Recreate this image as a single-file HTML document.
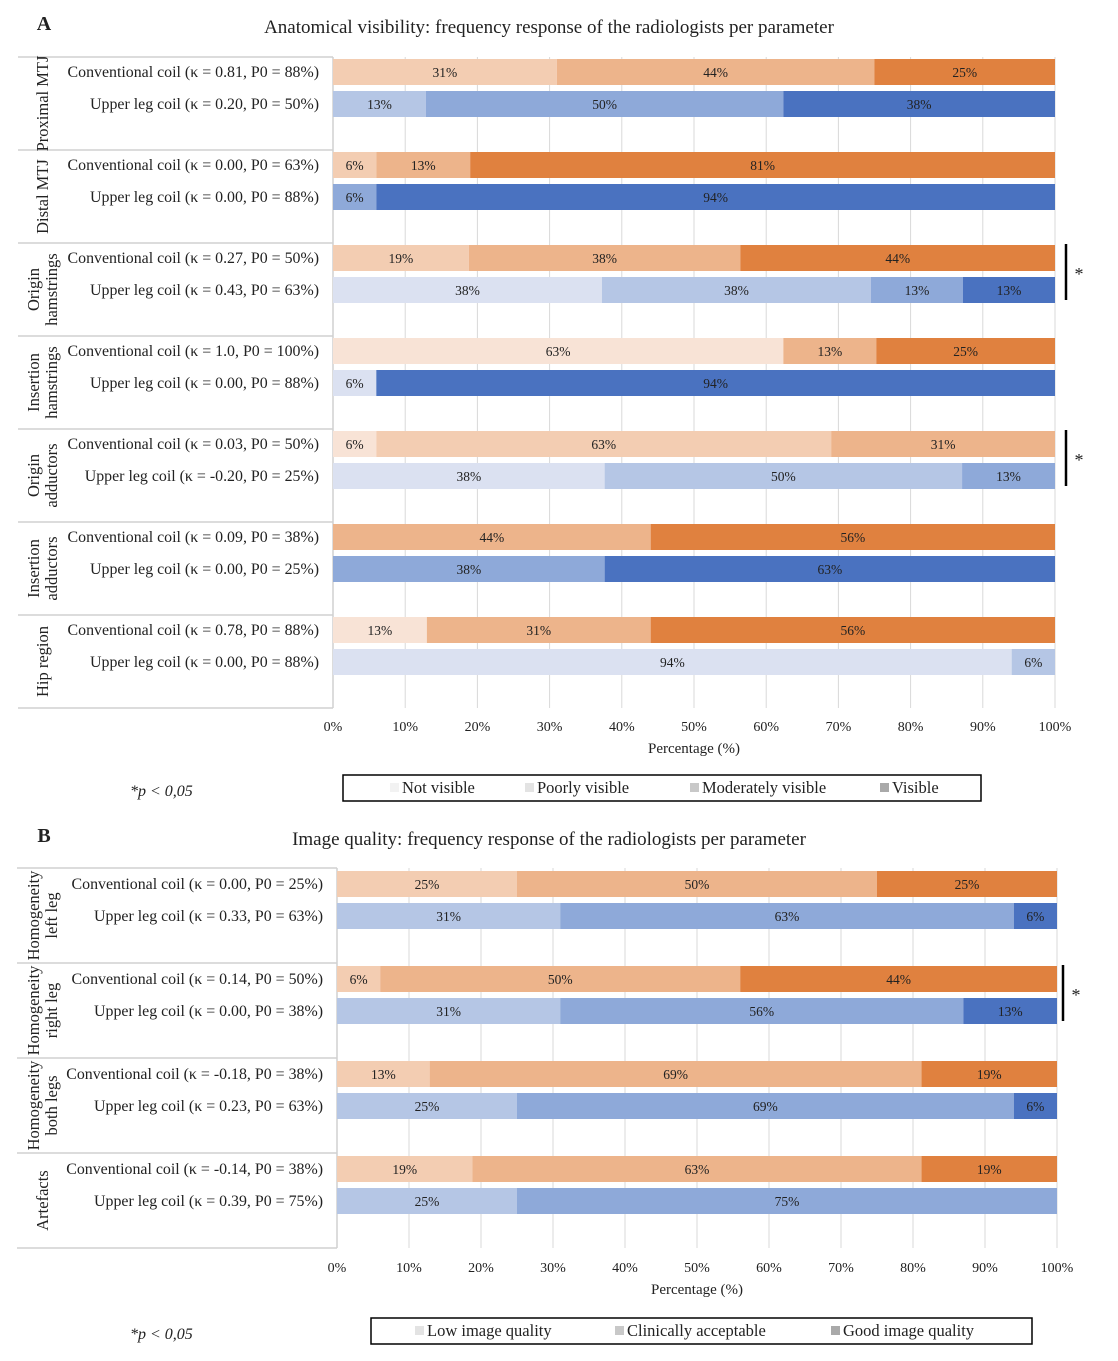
<!DOCTYPE html>
<html><head><meta charset="utf-8"><style>
body{margin:0;background:#fff;}
svg text{font-family:"Liberation Serif",serif;fill:#222;}
</style></head><body>
<svg id="s" width="1118" height="1356" xmlns="http://www.w3.org/2000/svg"></svg>
<script>
// ---- Chart A data ----
const catsA=["Proximal MTJ","Distal MTJ","Origin|hamstrings","Insertion|hamstrings","Origin|adductors","Insertion|adductors","Hip region"];
const convLabelsA=["Conventional coil (κ = 0.81, P0 = 88%)","Conventional coil (κ = 0.00, P0 = 63%)","Conventional coil (κ = 0.27, P0 = 50%)","Conventional coil (κ = 1.0, P0 = 100%)","Conventional coil (κ = 0.03, P0 = 50%)","Conventional coil (κ = 0.09, P0 = 38%)","Conventional coil (κ = 0.78, P0 = 88%)"];
const upperLabelsA=["Upper leg coil (κ = 0.20, P0 = 50%)","Upper leg coil (κ = 0.00, P0 = 88%)","Upper leg coil  (κ = 0.43, P0 = 63%)","Upper leg coil (κ = 0.00, P0 = 88%)","Upper leg coil (κ = -0.20, P0 = 25%)","Upper leg coil (κ = 0.00, P0 = 25%)","Upper leg coil (κ = 0.00, P0 = 88%)"];
const convA=[[0,31,44,25],[0,6,13,81],[0,19,38,44],[63,0,13,25],[6,63,31,0],[0,0,44,56],[13,0,31,56]];
const upperA=[[0,13,50,38],[0,0,6,94],[38,38,13,13],[6,0,0,94],[38,50,13,0],[0,0,38,63],[94,6,0,0]];
const legendA=["Not visible","Poorly visible","Moderately visible","Visible"];
// ---- Chart B data ----
const catsB=["Homogeneity|left leg","Homogeneity|right leg","Homogeneity|both legs","Artefacts"];
const convLabelsB=["Conventional coil  (κ = 0.00, P0 = 25%)","Conventional coil (κ = 0.14, P0 = 50%)","Conventional coil (κ = -0.18, P0 = 38%)","Conventional coil (κ = -0.14, P0 = 38%)"];
const upperLabelsB=["Upper leg coil (κ = 0.33, P0 = 63%)","Upper leg coil (κ = 0.00, P0 = 38%)","Upper leg coil (κ = 0.23, P0 = 63%)","Upper leg coil (κ = 0.39, P0 = 75%)"];
const convB=[[25,50,25],[6,50,44],[13,69,19],[19,63,19]];
const upperB=[[31,63,6],[31,56,13],[25,69,6],[25,75,0]];
const legendB=["Low image quality","Clinically acceptable","Good image quality"];
const ticks=[0,10,20,30,40,50,60,70,80,90,100];

const orA=["#f8e3d6","#f3cdb2","#edb48b","#e0813f"], blA=["#dbe1f1","#b5c6e5","#8ea9d9","#4a72c0"];
const orB=["#f3cdb2","#edb48b","#e0813f"], blB=["#b5c6e5","#8ea9d9","#4a72c0"];
const S=document.getElementById('s');const NS="http://www.w3.org/2000/svg";
function el(t,a,txt){const e=document.createElementNS(NS,t);for(const k in a)e.setAttribute(k,a[k]);if(txt!==undefined)e.textContent=txt;S.appendChild(e);return e;}

function chart(o){
  const x=v=>o.x0+(o.x1-o.x0)*v/100;
  const T=el('text',{x:o.titleX,y:o.titleY,'font-size':19,'text-anchor':'middle'},o.title);
  
  const L=el('text',{x:44,y:o.titleY-3,'font-size':20,'font-weight':'bold','text-anchor':'middle'},o.letter);
  
  const n=o.cats.length, top=o.top, gh=o.gh, bottom=top+n*gh;
  ticks.forEach(t=>{const g=el('line',{x1:x(t),x2:x(t),y1:top,y2:bottom,stroke:'#d9d9d9','stroke-width':1});
    
    const tl=el('text',{x:x(t),y:o.tickY,'font-size':14,'text-anchor':'middle'},t+'%');
    });
  const at=el('text',{x:(o.x0+o.x1)/2,y:o.tickY+22,'font-size':15,'text-anchor':'middle'},'Percentage (%)');
  
  for(let i=0;i<=n;i++){const l=el('line',{x1:o.lx,x2:o.x0,y1:top+i*gh,y2:top+i*gh,stroke:'#d0d0d0','stroke-width':1.5});
    }
  const vl=el('line',{x1:o.x0,x2:o.x0,y1:top,y2:bottom,stroke:'#d0d0d0','stroke-width':1.5});
  
  o.cats.forEach((c,i)=>{
    const cy=top+i*gh+gh/2, parts=c.split('|');
    parts.forEach((p,j)=>{const off=(j-(parts.length-1)/2)*18;
      const t=el('text',{x:0,y:0,'font-size':16.5,'text-anchor':'middle','transform':`translate(${42+off+6},${cy}) rotate(-90)`},p);
      });
    [[o.conv[i],o.cl[i],o.or,o.c1],[o.upper[i],o.ul[i],o.bl,o.c2]].forEach(([vals,lab,cols,yc])=>{
      const y=top+i*gh+yc;
      const tl=el('text',{x:o.x0-14,y:y+5,'font-size':15.9,'text-anchor':'end'},lab);
      
      const sum=vals.reduce((a,b)=>a+b,0);let cum=0;
      vals.forEach((v,k)=>{if(!v)return;const a=x(cum*100/sum),b=x((cum+v)*100/sum);cum+=v;
        const r=el('rect',{x:a,y:y-13,width:b-a,height:26,fill:cols[k]});
        
        const vt=el('text',{x:(a+b)/2,y:y+5,'font-size':13.5,'text-anchor':'middle'},v+'%');
        });
    });
  });
  o.sig.forEach(s=>{const y=top+s*gh;
    const l=el('line',{x1:o.sigX,x2:o.sigX,y1:y+o.c1-14,y2:y+o.c2+10,stroke:'#000','stroke-width':2.5});
    
    const st=el('text',{x:o.sigX+13,y:y+(o.c1+o.c2)/2+6,'font-size':18,'text-anchor':'middle'},'*');
    });
  const lb=el('rect',{x:o.lgx0,y:o.lgy,width:o.lgx1-o.lgx0,height:26,fill:'#fff',stroke:'#000','stroke-width':1.5});
  
  const gr=["#f2f2f2","#e3e3e3","#c8c8c8","#a9a9a9"];
  o.legend.forEach((t,k)=>{const lx=o.lgPos[k];
    const sw=el('rect',{x:lx,y:o.lgy+8,width:9,height:9,fill:o.legend.length===3?gr[k+1]:gr[k]});
    
    const lt=el('text',{x:lx+12,y:o.lgy+18,'font-size':16.5},t);
    });
  const p=el('text',{x:130,y:o.lgy+21,'font-size':16,'font-style':'italic'},'*p < 0,05');
  
}
chart({title:"Anatomical visibility: frequency response of the radiologists per parameter",letter:"A",titleX:549,titleY:33,
  x0:333,x1:1055,lx:18,top:57,gh:93,c1:15,c2:47,tickY:731,cats:catsA,conv:convA,upper:upperA,cl:convLabelsA,ul:upperLabelsA,
  or:orA,bl:blA,sig:[2,4],sigX:1066,legend:legendA,lgx0:343,lgx1:981,lgy:775,lgPos:[390,525,690,880]});
chart({title:"Image quality: frequency response of the radiologists per parameter",letter:"B",titleX:549,titleY:845,
  x0:337,x1:1057,lx:17,top:868,gh:95,c1:16,c2:48,tickY:1272,cats:catsB,conv:convB,upper:upperB,cl:convLabelsB,ul:upperLabelsB,
  or:orB,bl:blB,sig:[1],sigX:1063,legend:legendB,lgx0:371,lgx1:1032,lgy:1318,lgPos:[415,615,831]});
</script>
</body></html>
